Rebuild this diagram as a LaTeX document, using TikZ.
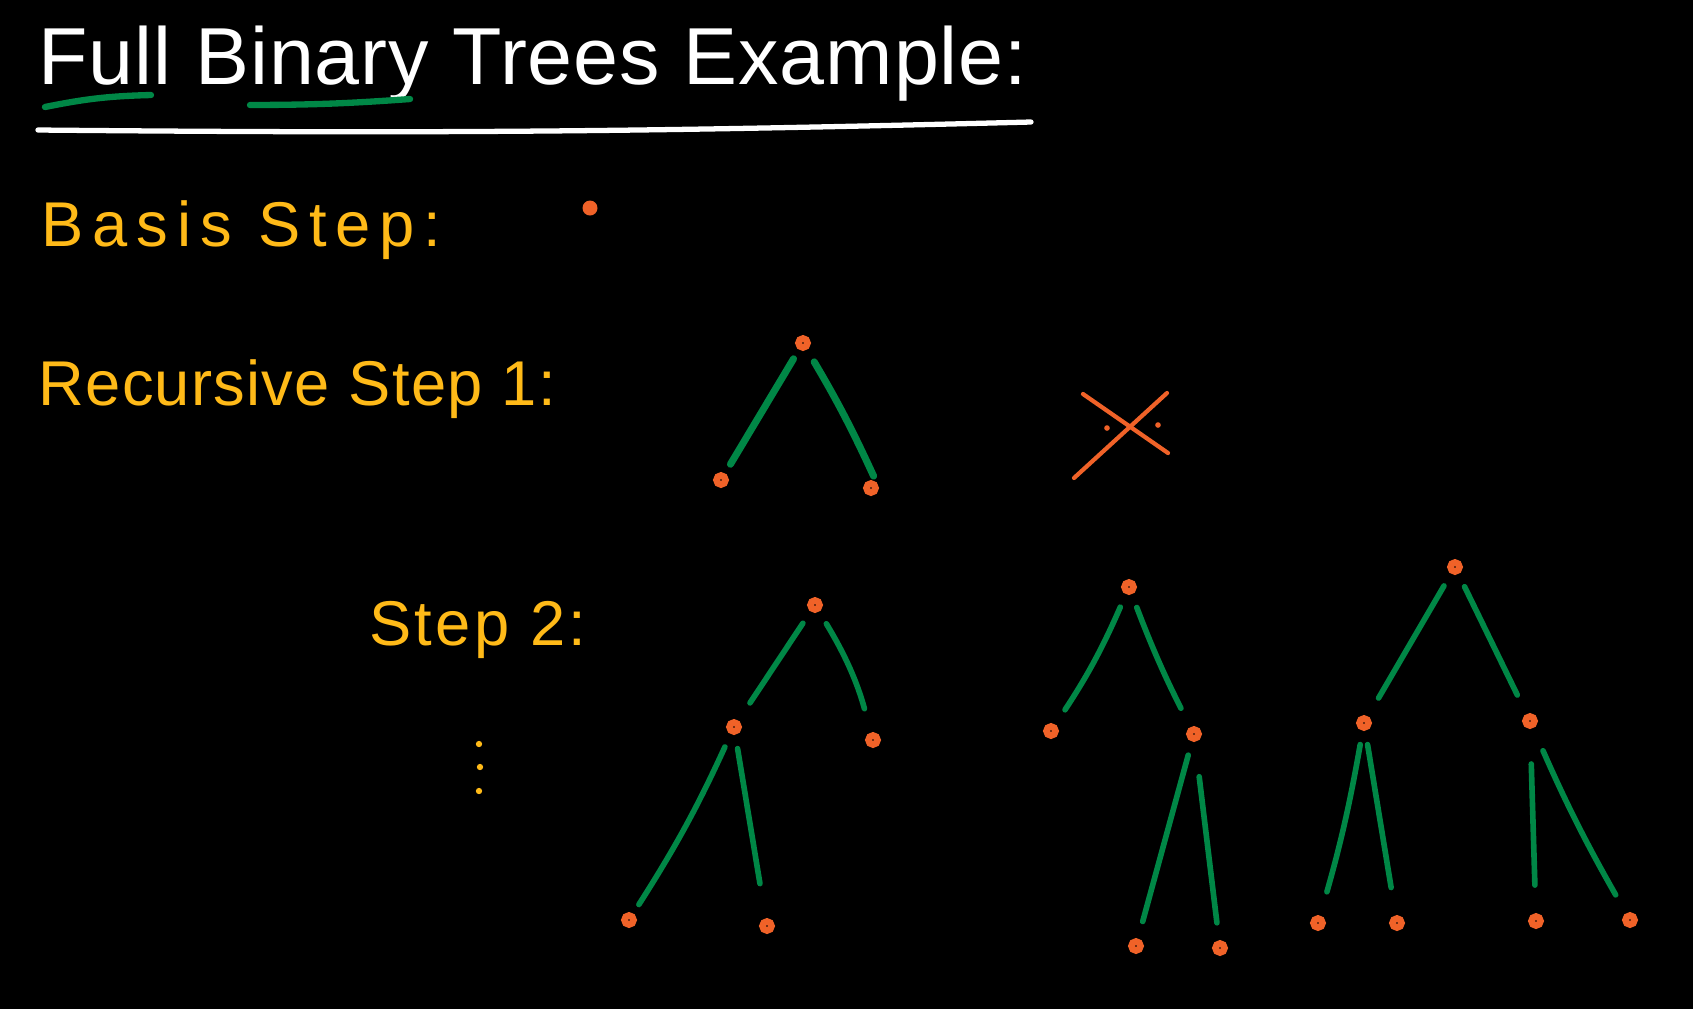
\documentclass[tikz,border=0pt]{standalone}
\usepackage{fontspec}
\setmainfont{Liberation Sans}
\usetikzlibrary{arrows.meta,positioning,calc}
\definecolor{dotCol}{RGB}{240,98,40}
\definecolor{edgeCol}{RGB}{0,135,70}
\definecolor{labCol}{RGB}{255,186,24}
\tikzset{
  vert/.style={circle,draw=dotCol,fill=black,line width=1.9pt,inner sep=0pt,minimum size=0.9mm},
  dot/.style={circle,fill=dotCol,inner sep=0pt,minimum size=1.5mm},
  edge/.style={draw=edgeCol,line width=1.6pt,line cap=round,shorten <=4pt,shorten >=5pt},
  lab/.style={anchor=base west,inner sep=0pt,text=labCol,font=\fontsize{18}{20}\selectfont},
  ttl/.style={anchor=base west,inner sep=0pt,text=white,font=\fontsize{23}{28}\selectfont},
  uline/.style={line width=1.5pt,line cap=round},
  cross/.style={draw=dotCol,line width=1.2pt,line cap=round},
}
\begin{document}
\begin{tikzpicture}
  \fill[black] (0,0) rectangle (16.93,-10.09);
  \useasboundingbox (0,0) rectangle (16.93,-10.09);

  % heading
  \node[ttl] (title) at (0.38,-0.84) {\addfontfeature{LetterSpace=1.2}Full Binary Trees Example:};
  \draw[uline,white] (0.38,-1.30) to[bend right=1] (10.31,-1.22);
  \draw[uline,edgeCol,line width=1.8pt] (0.45,-1.07) to[bend left=5] (1.51,-0.95);
  \draw[uline,edgeCol,line width=1.8pt] (2.50,-1.05) to[bend right=2] (4.10,-0.99);

  % basis
  \node[lab] (basis) at (0.41,-2.46) {\addfontfeature{LetterSpace=14}Basis Step:};
  \node[dot] (v0) at (5.90,-2.08) {};

  % recursive step 1
  \node[lab] (rec) at (0.38,-4.05) {\addfontfeature{LetterSpace=2}Recursive Step 1:};
  \node[vert] (r1) at (8.03,-3.43) {};
  \node[vert] (a1) at (7.21,-4.80) {};
  \node[vert] (b1) at (8.71,-4.88) {};
  \draw[edge,line width=2pt,shorten <=3pt,shorten >=3pt] (r1) -- (a1);
  \draw[edge,line width=2pt,shorten <=4pt,shorten >=2pt] (r1) to[bend left=3] (b1.north east);
  \draw[cross] (10.83,-3.94) -- (11.68,-4.53);
  \draw[cross] (11.67,-3.93) -- (10.74,-4.78);
  \fill[dotCol] (11.07,-4.28) circle (0.8pt);
  \fill[dotCol] (11.58,-4.25) circle (0.8pt);

  % step 2
  \node[lab] (step) at (3.69,-6.45) {\addfontfeature{LetterSpace=5}Step 2:};
  \fill[labCol] (4.79,-7.44) circle (0.9pt);
  \fill[labCol] (4.80,-7.67) circle (0.9pt);
  \fill[labCol] (4.79,-7.91) circle (0.9pt);

  \node[vert] (ra) at (8.15,-6.05) {};
  \node[vert] (ma) at (7.34,-7.27) {};
  \node[vert] (ca) at (8.73,-7.40) {};
  \node[vert] (da) at (6.29,-9.20) {};
  \node[vert] (ea) at (7.67,-9.26) {};
  \draw[edge,shorten >=6pt] (ra) -- (ma);
  \draw[edge,shorten >=7pt] (ra) to[bend left=8] (ca);
  \draw[edge,shorten >=3pt] (ma) to[bend left=4] (da);
  \draw[edge,shorten >=10pt] (ma) -- (ea);

  \node[vert] (rb) at (11.29,-5.87) {};
  \node[vert] (bb) at (10.51,-7.31) {};
  \node[vert] (mb) at (11.94,-7.34) {};
  \node[vert] (db) at (11.36,-9.46) {};
  \node[vert] (eb) at (12.20,-9.48) {};
  \draw[edge] (rb) to[bend left=5] (bb);
  \draw[edge,shorten >=6pt] (rb) to[bend right=3] (mb);
  \draw[edge] (mb) -- (db);
  \draw[edge,shorten <=10pt] (mb) -- (eb);

  \node[vert] (rc) at (14.55,-5.67) {};
  \node[vert] (lc) at (13.64,-7.23) {};
  \node[vert] (qc) at (15.30,-7.21) {};
  \node[vert] (fc) at (13.18,-9.23) {};
  \node[vert] (gc) at (13.97,-9.23) {};
  \node[vert] (hc) at (15.36,-9.21) {};
  \node[vert] (kc) at (16.30,-9.20) {};
  \draw[edge,shorten >=6pt] (rc) -- (lc);
  \draw[edge,shorten >=6pt] (rc) -- (qc);
  \draw[edge,shorten >=7pt] (lc) to[bend left=3] (fc);
  \draw[edge,shorten >=8pt] (lc) -- (gc);
  \draw[edge,shorten <=10pt,shorten >=8pt] (qc) -- (hc);
  \draw[edge,shorten <=7pt,shorten >=6pt] (qc) to[bend right=3] (kc);
\end{tikzpicture}
\end{document}
